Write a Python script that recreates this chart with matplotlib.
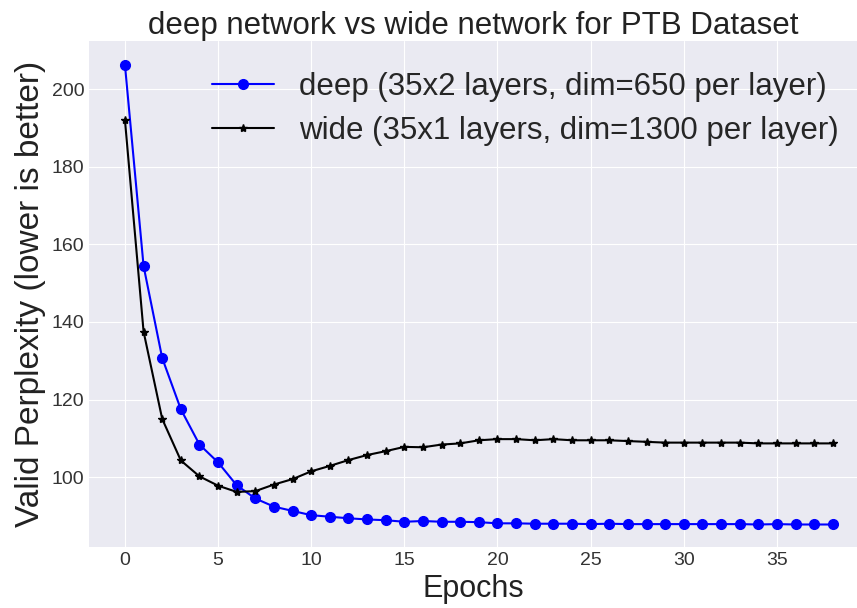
import matplotlib
matplotlib.use("Agg")
import matplotlib.pyplot as plt
import numpy as np

epochs = list(range(39))
deep = [206.2, 154.4, 130.7, 117.5, 108.4, 103.8, 97.9, 94.5, 92.4, 91.3,
        90.2, 89.8, 89.4, 89.1, 88.9, 88.5, 88.7, 88.5, 88.5, 88.4,
        88.1, 88.1, 88.0, 88.0, 88.0, 87.9, 88.0, 87.9, 87.9, 87.9,
        87.9, 87.9, 87.9, 87.9, 87.8, 87.9, 87.8, 87.8, 87.8]
wide = [192.0, 137.5, 115.0, 104.3, 100.2, 97.8, 96.2, 96.4, 98.1, 99.5,
        101.5, 102.9, 104.4, 105.7, 106.7, 107.8, 107.7, 108.4, 108.7, 109.5,
        109.8, 109.8, 109.5, 109.8, 109.5, 109.5, 109.5, 109.3, 109.1, 108.9,
        108.9, 108.9, 108.9, 108.9, 108.7, 108.7, 108.7, 108.7, 108.7]
xticks = [0, 5, 10, 15, 20, 25, 30, 35]
yticks = [100, 120, 140, 160, 180, 200]

plt.style.use("seaborn-v0_8-darkgrid")
plt.rcParams['font.family'] = ['Liberation Sans', 'DejaVu Sans']

fig = plt.figure(figsize=(8.57, 6.08), dpi=100)
ax = fig.add_axes([89/857, (608-547)/608, (857-89)/857, (547-41)/608])

ax.plot(epochs, deep, color='blue', marker='o', markersize=7, linewidth=1.5,
        label='deep (35x2 layers, dim=650 per layer)')
ax.plot(epochs, wide, color='black', marker='*', markersize=6, linewidth=1.5,
        label='wide (35x1 layers, dim=1300 per layer)')

ax.set_xlim(-1.93, 39.3)
ax.set_ylim(82.0, 212.4)
ax.set_xticks(xticks)
ax.set_yticks(yticks)
ax.tick_params(labelsize=14, colors='#333333')
ax.set_xlabel('Epochs', fontsize=22, color='#222222', labelpad=4)
ax.set_ylabel('Valid Perplexity (lower is better)', fontsize=24, color='#222222', labelpad=4)
ax.set_title('deep network vs wide network for PTB Dataset', fontsize=22.5, color='#222222', pad=4)
ax.legend(loc='upper right', fontsize=22.5, frameon=False,
          borderaxespad=0.5, labelspacing=0.45, bbox_to_anchor=(1.013, 0.995))

fig.savefig('out.png', dpi=100)
